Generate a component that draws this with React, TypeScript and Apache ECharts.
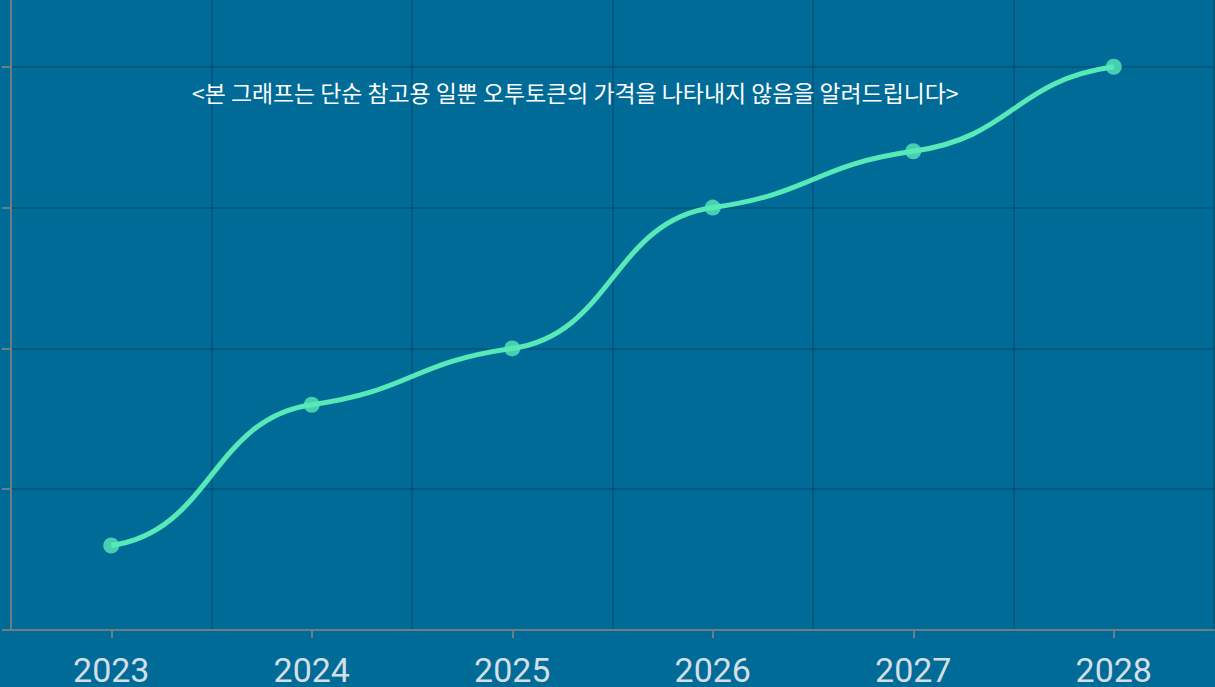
import React, { useEffect, useRef } from "react";
import * as echarts from "echarts";

const years = ["2023", "2024", "2025", "2026", "2027", "2028"];
const prices = [0.6, 1.6, 2, 3, 3.4, 4];
const noteText = "<본 그래프는 단순 참고용 일뿐 오투토큰의 가격을 나타내지 않음을 알려드립니다>";

const segments = prices.slice(0, -1).map((v, i) => [i, v, prices[i + 1]]);

const LINE_COLOR = "#57e9b8";

export default function App() {
  const ref = useRef<HTMLDivElement>(null);
  useEffect(() => {
    if (!ref.current) return;
    const chart = echarts.init(ref.current, null, { renderer: "svg" });
    chart.setOption({
      animation: false,
      backgroundColor: "#016b98",
      grid: { left: 11, right: 1, top: 0, bottom: 56 },
      xAxis: {
        type: "category",
        data: years,
        boundaryGap: true,
        axisLine: { show: true, lineStyle: { color: "#6f7c84", width: 2 } },
        axisTick: { show: true, alignWithLabel: true, length: 8, lineStyle: { color: "#6f7c84", width: 2 } },
        axisLabel: { color: "#d3dfe7", fontSize: 34, lineHeight: 30, fontFamily: "Roboto", margin: 25 },
        splitLine: { show: true, lineStyle: { color: "rgba(0,0,0,0.22)", width: 1.5 } },
      },
      yAxis: {
        type: "value",
        min: 0,
        max: 5,
        interval: 1,
        axisLine: { show: true, lineStyle: { color: "#6f7c84", width: 2 } },
        axisTick: { show: true, length: 9, lineStyle: { color: "#6f7c84", width: 2 } },
        axisLabel: { show: false },
        splitLine: { show: true, lineStyle: { color: "rgba(0,0,0,0.22)", width: 1.5 } },
      },
      graphic: [
        {
          type: "text",
          left: 192,
          top: 155,
          z: 100,
          style: {
            text: noteText,
            fill: "#ffffff",
            fontSize: 22.9,
            fontFamily: "Noto Sans CJK KR",
          },
        },
      ],
      series: [
        {
          type: "custom",
          data: segments,
          encode: { x: 0, y: [1, 2] },
          renderItem: (params: any, api: any) => {
            const i = api.value(0);
            const a = api.value(1);
            const b = api.value(2);
            const p0 = api.coord([i, a]);
            const p3 = api.coord([i + 1, b]);
            const dx = p3[0] - p0[0];
            const c1y = api.coord([i, a + 0.1])[1];
            const c2y = api.coord([i, b - 0.1])[1];
            return {
              type: "bezierCurve",
              shape: {
                x1: p0[0],
                y1: p0[1],
                x2: p3[0],
                y2: p3[1],
                cpx1: p0[0] + dx * 0.5,
                cpy1: c1y,
                cpx2: p3[0] - dx * 0.5,
                cpy2: c2y,
              },
              style: { stroke: LINE_COLOR, lineWidth: 5, fill: null },
            };
          },
          z: 2,
        },
        {
          type: "scatter",
          data: prices,
          symbol: "circle",
          symbolSize: 16,
          itemStyle: { color: LINE_COLOR },
          z: 3,
        },
      ],
    });
    return () => chart.dispose();
  }, []);
  return (
    <div
      ref={ref}
      style={{ position: "fixed", left: 0, top: -74, width: 1215, height: 761 }}
    />
  );
}
